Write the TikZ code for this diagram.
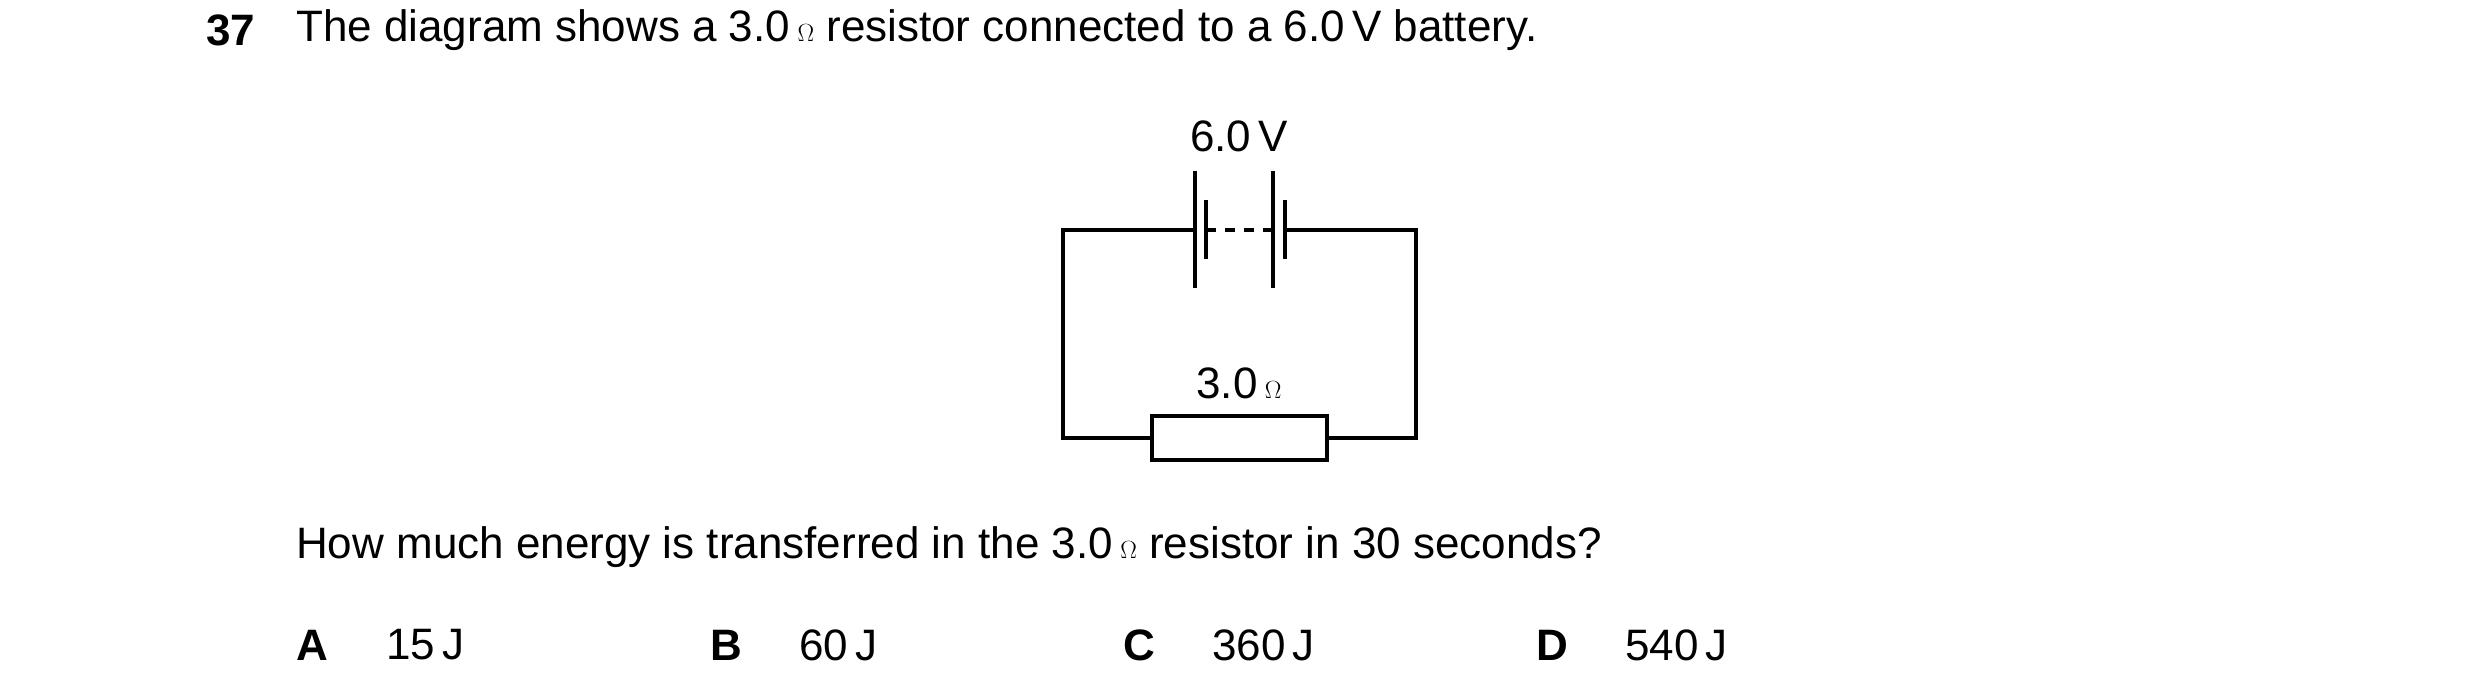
\documentclass[tikz,border=0pt]{standalone}
\usepackage{fontspec}
\setmainfont{Liberation Sans}
\usetikzlibrary{positioning}
\tikzset{
  wire/.style={line width=3.2pt},
  txt/.style={inner sep=0pt, font=\fontsize{44}{52}\selectfont},
}
\begin{document}
\begin{tikzpicture}[x=1pt,y=1pt,yscale=-1]
	\useasboundingbox (0,0) rectangle (2480,700);
	% question
	\node[txt, anchor=west] (num) at (206,30) {\textbf{37}};
	\node[txt, anchor=west] (stem) at (296,30) {The diagram shows a 3.0\,$\Omega$ resistor connected to a 6.0\,V battery.};
	% circuit corners
	\coordinate (tl) at (1063,230);
	\coordinate (tr) at (1416,230);
	\coordinate (bl) at (1063,438);
	\coordinate (br) at (1416,438);
	% battery plates
	\coordinate (l1) at (1195,230);
	\coordinate (s1) at (1206,230);
	\coordinate (l2) at (1273,230);
	\coordinate (s2) at (1285,230);
	\draw[wire] (l1) ++(0,-59) -- ++(0,117);
	\draw[wire] (s1) ++(0,-30) -- ++(0,59);
	\draw[wire] (l2) ++(0,-59) -- ++(0,117);
	\draw[wire] (s2) ++(0,-30) -- ++(0,59);
	\draw[wire, dash pattern=on 10pt off 9pt] (s1) -- (l2);
	\draw[wire] (l1) -- (tl) -- (bl) -- (1152,438);
	\draw[wire] (s2) -- (tr) -- (br) -- (1327,438);
	% resistor
	\node[draw, wire, minimum width=175pt, minimum height=44pt, inner sep=0pt] (res) at (1239.5,438) {};
	\node[txt] (vlab) at (1239,136) {6.0\,V};
	\node[txt] (rlab) at (1239,383) {3.0\,$\Omega$};
	% question line and options
	\node[txt, anchor=west] (ask) at (296,547) {How much energy is transferred in the 3.0\,$\Omega$ resistor in 30 seconds?};
	\node[txt, anchor=west] (oa) at (296,645) {\textbf{A}};
	\node[txt, anchor=west] (va) at (386,645) {15\,J};
	\node[txt, anchor=west] (ob) at (710,645) {\textbf{B}};
	\node[txt, anchor=west] (vb) at (799,645) {60\,J};
	\node[txt, anchor=west] (oc) at (1123,645) {\textbf{C}};
	\node[txt, anchor=west] (vc) at (1212,645) {360\,J};
	\node[txt, anchor=west] (od) at (1536,645) {\textbf{D}};
	\node[txt, anchor=west] (vd) at (1625,645) {540\,J};
\end{tikzpicture}
\end{document}
